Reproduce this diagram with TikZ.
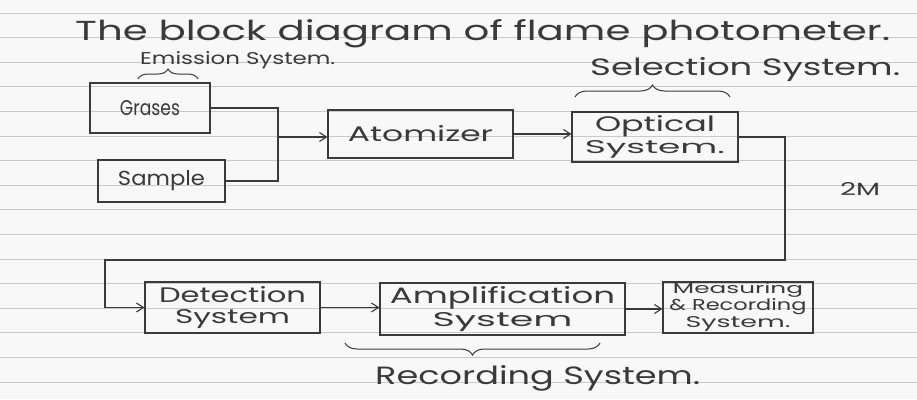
\documentclass[tikz,border=0pt]{standalone}
\usepackage{fontspec}
\newfontfamily\hand{Poppins}
\usetikzlibrary{decorations.pathreplacing,arrows.meta}
\definecolor{ink}{HTML}{3A3A3A}
\definecolor{rulecol}{HTML}{C9C9C9}
\definecolor{paper}{HTML}{F8F8F8}
\newcommand{\fitt}[3]{\resizebox{#1pt}{#2pt}{\hand #3}}
\tikzset{
  box/.style={draw=ink, line width=1.1pt, inner sep=0pt, align=center, text=ink},
  conn/.style={draw=ink, line width=1.1pt},
  arr/.style={conn, -{Straight Barb[length=7pt,width=9pt]}},
  brc/.style={draw=ink, line width=1pt, decorate, decoration={brace, amplitude=#1}},
  lbl/.style={anchor=base west, inner sep=0pt, text=ink},
  rule/.style={draw=rulecol, line width=0.9pt}
}
\begin{document}
\begin{tikzpicture}[x=1pt,y=-1pt]
\fill[paper] (0,0) rectangle (917,399);
\useasboundingbox (0,0) rectangle (917,399);
\foreach \k in {0,...,15} \draw[rule] (0,{13+24.6*\k}) -- (917,{13+24.6*\k});

% texts
\node[lbl] (title) at (75,40) {\fitt{815}{21}{The block diagram of flame photometer.}};
\node[lbl] (emis) at (140,64) {\fitt{195}{13}{Emission System.}};
\node[lbl] (sel) at (590,75) {\fitt{310}{18}{Selection System.}};
\node[lbl] (mark) at (840,195) {\fitt{40}{13}{2M}};
\node[lbl] (rec) at (375,384) {\fitt{325}{19}{Recording System.}};

% boxes
\node[box, minimum width=120pt, minimum height=50pt] (gr) at (150,108) {\fitt{60}{15}{Grases}};
\node[box, minimum width=127pt, minimum height=42pt] (sa) at (161.5,181) {\fitt{87}{15}{Sample}};
\node[box, minimum width=185pt, minimum height=48pt] (at) at (420.5,134) {\fitt{145}{16}{Atomizer}};
\node[box, minimum width=166pt, minimum height=50pt, font=\fontsize{10}{22}\selectfont] (op) at (655,137) {\fitt{120}{16}{Optical}\\\fitt{140}{13}{System.}};
\node[box, minimum width=175pt, minimum height=51pt, font=\fontsize{10}{21}\selectfont] (de) at (232.5,307.5) {\fitt{147}{16}{Detection}\\\fitt{115}{14}{System}};
\node[box, minimum width=245pt, minimum height=52pt, font=\fontsize{10}{23}\selectfont] (am) at (502.5,309) {\fitt{225}{17}{Amplification}\\\fitt{140}{14}{System}};
\node[box, minimum width=150pt, minimum height=51pt, font=\fontsize{10}{17}\selectfont] (me) at (738,307.5) {\fitt{130}{11}{Measuring}\\\fitt{137}{12}{\& Recording}\\\fitt{105}{11}{System.}};

% connectors
\coordinate (jn) at (278,137);
\draw[conn] (gr.east) -| (jn);
\draw[conn] (sa.east) -| (jn);
\draw[arr] (jn) -- (at.west |- jn);
\draw[arr] (at.east) -- (op.west |- at.east);
\coordinate (c1) at (785,260);
\coordinate (c2) at (105,260);
\draw[arr] (op.east) -| (c1) -- (c2) |- (de.west);
\draw[arr] (de.east) -- (am.west |- de.east);
\draw[arr] (am.east) -- (me.west |- am.east);

% braces
\draw[brc=10pt] (138,79) -- (198,79);
\draw[brc=12pt] (575,97) -- (730,97);
\draw[brc=12pt] (600,343) -- (345,343);
\end{tikzpicture}
\end{document}
